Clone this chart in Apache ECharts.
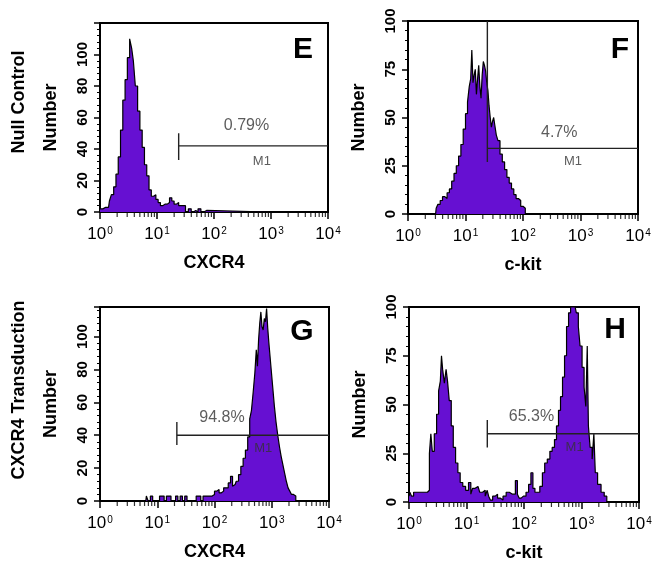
<!DOCTYPE html>
<html><head><meta charset="utf-8">
<script src="https://cdn.jsdelivr.net/npm/echarts@6/dist/echarts.min.js"></script>
<style>html,body{margin:0;padding:0;background:#fff}#c{width:662px;height:566px}</style>
</head><body><div id="c"></div>
<script>
// ---- Data (x in decades of fluorescence, log10; y = cell number) ----
const panelLetters = ['E', 'F', 'G', 'H'];
const xAxisNames = ['CXCR4', 'c-kit', 'CXCR4', 'c-kit'];
const rowLabels = ['Null Control', 'CXCR4 Transduction'];
const yMax = [120, 100, 118, 100];
const yInterval = [20, 25, 20, 25];
const xTickLabels = ['0', '1', '2', '3', '4'];

const eDec = [0.00,0.05,0.10,0.15,0.18,0.22,0.26,0.30,0.34,0.38,0.42,0.46,0.50,0.54,0.57,0.60,0.64,0.68,0.72,0.76,0.80,0.84,0.88,0.92,0.96,1.00,1.04,1.08,1.12,1.16,1.20,1.24,1.28,1.32,1.36,1.40,1.44,1.48,1.52,1.58,1.62,1.66,1.70,1.74,1.80,1.84,1.90,4.00];
const eCount = [2,2,3,3,7,11,16,24,35,52,71,84,98,110,104,96,80,64,52,41,30,23,14,10,11,8,6,4,5,5,6,9,7,5,6,4,4,4,0,2,0,1,0,2,0,1,0,0];

const fDec = [0.00,0.48,0.50,0.54,0.58,0.62,0.66,0.70,0.74,0.78,0.82,0.86,0.90,0.94,0.98,1.02,1.05,1.08,1.10,1.12,1.14,1.16,1.18,1.20,1.22,1.24,1.26,1.28,1.30,1.32,1.34,1.36,1.38,1.40,1.42,1.44,1.46,1.48,1.50,1.52,1.55,1.58,1.62,1.66,1.70,1.74,1.78,1.82,1.86,1.90,1.94,1.98,2.02,2.06,4.00];
const fCount = [0,0,3,5,7,9,8,11,13,17,21,25,30,36,44,52,58,66,70,85,68,72,75,62,70,77,66,60,72,79,77,74,68,64,56,50,45,48,50,46,41,38,31,27,23,19,16,13,10,8,7,4,3,0,0];

const gDec = [0.00,0.80,0.82,0.86,0.90,0.94,0.98,1.02,1.06,1.10,1.14,1.18,1.22,1.26,1.30,1.34,1.38,1.42,1.46,1.50,1.54,1.58,1.62,1.66,1.70,1.74,1.78,1.82,1.86,1.90,1.94,1.98,2.02,2.06,2.10,2.14,2.18,2.22,2.26,2.30,2.33,2.36,2.40,2.44,2.48,2.52,2.56,2.60,2.63,2.66,2.69,2.72,2.74,2.76,2.78,2.80,2.82,2.84,2.86,2.88,2.90,2.92,2.94,2.96,2.98,3.00,3.03,3.06,3.09,3.12,3.15,3.18,3.21,3.24,3.27,3.30,3.33,3.36,3.40,3.44,4.00];
const gCount = [0,0,3,0,3,0,0,0,3,3,0,3,3,0,0,3,0,3,0,3,0,0,0,0,3,3,0,3,3,3,3,4,6,7,5,6,8,8,11,15,9,10,12,16,21,26,31,39,50,55,66,78,92,82,98,108,115,106,104,111,109,117,105,96,88,80,70,58,48,40,33,27,22,17,12,8,6,4,3,0,0];

const hDec = [0.00,0.03,0.06,0.10,0.14,0.18,0.22,0.26,0.30,0.34,0.37,0.39,0.42,0.46,0.50,0.53,0.56,0.57,0.60,0.63,0.66,0.68,0.72,0.75,0.79,0.83,0.87,0.91,0.96,1.01,1.06,1.09,1.12,1.15,1.20,1.26,1.30,1.35,1.37,1.40,1.43,1.48,1.52,1.56,1.61,1.66,1.72,1.77,1.83,1.87,1.90,1.93,1.97,2.01,2.06,2.10,2.14,2.17,2.21,2.25,2.30,2.34,2.38,2.43,2.47,2.51,2.55,2.58,2.62,2.65,2.69,2.72,2.76,2.79,2.83,2.86,2.89,2.93,2.96,2.99,3.03,3.06,3.09,3.11,3.13,3.17,3.20,3.23,3.25,3.31,3.37,3.42,3.46,4.00];
const hCount = [3,5,3,5,5,5,5,5,5,6,25,35,26,35,45,57,62,75,68,61,68,62,52,39,28,20,15,10,8,6,10,4,7,7,8,5,6,3,6,3,1,3,4,2,1,3,5,4,4,11,4,2,3,3,5,9,15,7,5,5,8,15,20,22,26,28,32,39,47,54,64,75,90,97,100,100,100,97,90,80,69,59,49,80,39,28,22,35,15,9,5,3,0,0];

// M1 gate markers: gate start (fluorescence), bar level, tick low, tick high, percent text
const gateStart = [24, 24, 22, 23];
const gateLevel = [42, 34, 40, 35];
const gateTickLow = [33, 27, 34, 28];
const gateTickHigh = [50, 100, 48, 42];
const gatePercent = ['0.79%', '4.7%', '94.8%', '65.3%'];
const percentPos = [[372, 55], [427, 42], [135, 51], [135, 44]];
const m1Pos = [[692, 32], [741, 27], [708, 32], [759, 28]];

const decs = [eDec, fDec, gDec, hDec];
const counts = [eCount, fCount, gCount, hCount];

// ---- Build chart ----
const grids = [
  {left: 100, top: 23, width: 228, height: 189},
  {left: 408, top: 21, width: 230, height: 193},
  {left: 100, top: 307, width: 229, height: 194},
  {left: 409, top: 307, width: 230, height: 195}
];
const purple = '#6610d2';
const minorVals = [];
for (let k = 0; k < 4; k++) for (let m = 2; m <= 9; m++) minorVals.push(m * Math.pow(10, k));

const xAxes = [], yAxes = [], series = [];
for (let i = 0; i < 4; i++) {
  xAxes.push({
    type: 'log', logBase: 10, min: 1, max: 10000, gridIndex: i,
    axisLine: {show: true, lineStyle: {color: '#000', width: 2}},
    axisTick: {show: true, length: 7, lineStyle: {color: '#000', width: 1.5}},
    splitLine: {show: false},
    axisLabel: {
      margin: 14, color: '#000',
      formatter: v => '{b|10}{s|' + xTickLabels[Math.round(Math.log10(v))] + '}',
      rich: {
        b: {fontSize: 17, lineHeight: 17, color: '#000', fontFamily: 'Liberation Sans'},
        s: {fontSize: 10, lineHeight: 10, color: '#000', verticalAlign: 'top', fontFamily: 'Liberation Sans', padding: [0, 0, 0, 1]}
      }
    },
    name: xAxisNames[i], nameLocation: 'middle', nameGap: 42,
    nameTextStyle: {fontSize: 18, fontWeight: 'bold', color: '#000', fontFamily: 'Liberation Sans'}
  });
  yAxes.push({
    type: 'value', min: 0, max: yMax[i], interval: yInterval[i], gridIndex: i,
    axisLine: {show: true, lineStyle: {color: '#000', width: 2}},
    axisTick: {show: true, length: 6, lineStyle: {color: '#000', width: 1.5}},
    minorTick: {show: true, splitNumber: 5, length: 3, lineStyle: {color: '#000', width: 1}},
    splitLine: {show: false},
    axisLabel: {rotate: 90, margin: 10, fontSize: 15, fontWeight: 'bold', color: '#000', fontFamily: 'Liberation Sans',
      showMaxLabel: yMax[i] === 100},
    name: 'Number', nameLocation: 'middle', nameGap: 40, nameRotate: 90,
    nameTextStyle: {fontSize: 18, fontWeight: 'bold', color: '#000', fontFamily: 'Liberation Sans'}
  });
  series.push({
    type: 'line', xAxisIndex: i, yAxisIndex: i, step: 'middle', symbol: 'none',
    data: decs[i].map((d, j) => [Math.pow(10, d), counts[i][j]]),
    lineStyle: {color: '#000', width: 1.2},
    areaStyle: {color: purple, opacity: 1},
    silent: true, z: 2
  });
  // gate tick (vertical)
  series.push({
    type: 'line', xAxisIndex: i, yAxisIndex: i, symbol: 'none', silent: true, z: 4,
    data: [[gateStart[i], gateTickLow[i]], [gateStart[i], gateTickHigh[i]]],
    lineStyle: {color: '#222', width: 1.4}
  });
  // gate bar (horizontal)
  series.push({
    type: 'line', xAxisIndex: i, yAxisIndex: i, symbol: 'none', silent: true, z: 4,
    data: [[gateStart[i], gateLevel[i]], [10000, gateLevel[i]]],
    lineStyle: {color: '#222', width: 1.4}
  });
  // texts
  series.push({
    type: 'scatter', xAxisIndex: i, yAxisIndex: i, symbolSize: 0, silent: true, z: 5,
    data: [
      {value: percentPos[i], label: {show: true, formatter: gatePercent[i], position: 'inside', fontSize: 16, color: '#333', fontFamily: 'Liberation Sans'}},
      {value: m1Pos[i], label: {show: true, formatter: 'M1', position: 'inside', fontSize: 13, color: '#333', fontFamily: 'Liberation Sans'}}
    ]
  });
  // log minor ticks on x axis
  series.push({
    type: 'scatter', xAxisIndex: i, yAxisIndex: i, symbol: 'rect', symbolSize: [1.2, 4], symbolOffset: [0, 3],
    clip: false, silent: true, itemStyle: {color: '#000'}, z: 6,
    data: minorVals.map(v => [v, 0])
  });
}

const graphic = [];
const letterPos = [[303, 50], [620, 50], [302, 332], [615, 330]];
for (let i = 0; i < 4; i++) {
  graphic.push({type: 'text', x: letterPos[i][0], y: letterPos[i][1], z: 10,
    style: {text: panelLetters[i], font: 'bold 30px "Liberation Sans"', fill: '#000', align: 'center', verticalAlign: 'middle'}});
}
graphic.push({type: 'text', x: 19, y: 102, rotation: Math.PI / 2,
  style: {text: rowLabels[0], font: 'bold 18px "Liberation Sans"', fill: '#000', align: 'center', verticalAlign: 'middle'}});
graphic.push({type: 'text', x: 19, y: 390, rotation: Math.PI / 2,
  style: {text: rowLabels[1], font: 'bold 18px "Liberation Sans"', fill: '#000', align: 'center', verticalAlign: 'middle'}});

const chart = echarts.init(document.getElementById('c'), null, {renderer: 'canvas'});
chart.setOption({
  animation: false,
  backgroundColor: '#fff',
  grid: grids.map(g => Object.assign({show: true, borderColor: '#000', borderWidth: 2, containLabel: false}, g)),
  xAxis: xAxes, yAxis: yAxes, series: series, graphic: graphic
});
</script></body></html>
